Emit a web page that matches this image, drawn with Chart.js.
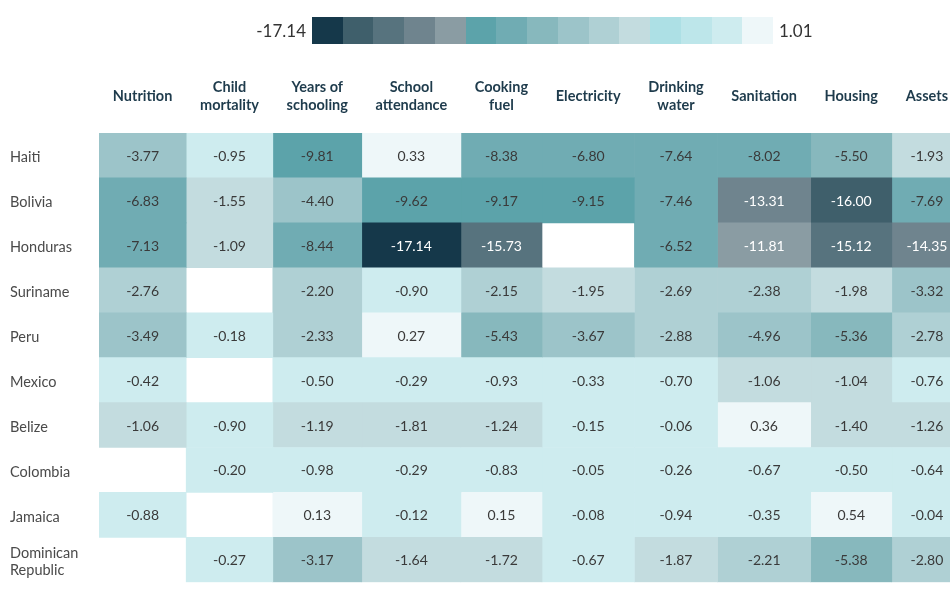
<!DOCTYPE html>
<html><head><meta charset="utf-8">
<script src="https://cdn.jsdelivr.net/npm/chart.js@4/dist/chart.umd.min.js"></script>
<style>
html,body{margin:0;padding:0;background:#fff;overflow:hidden;width:950px;height:591px;position:relative;font-family:Lato,sans-serif}
#wrap{position:absolute;left:0;top:0}
#lgMin,#lgMax{position:absolute;top:17px;height:27px;line-height:27px;font-size:17px;color:#333}
#lgMin{left:150px;width:156px;text-align:right}
#lgMax{left:779px}
#lgBar{position:absolute;top:17px;left:312px;width:461px;height:27px;display:flex}
#lgBar div{flex:1;height:100%}
</style></head><body>
<div id="wrap"><canvas id="c"></canvas></div>
<div id="lgMin"></div><div id="lgBar"></div><div id="lgMax"></div>
<script>
// ---- data ----
const countries = ["Haiti","Bolivia","Honduras","Suriname","Peru","Mexico","Belize","Colombia","Jamaica",["Dominican","Republic"]];
const indicators = [["Nutrition"],["Child","mortality"],["Years of","schooling"],["School","attendance"],["Cooking","fuel"],["Electricity"],["Drinking","water"],["Sanitation"],["Housing"],["Assets"]];
const haiti    = [-3.77, -0.95, -9.81,   0.33,  -8.38, -6.80, -7.64,  -8.02,  -5.50, -1.93];
const bolivia  = [-6.83, -1.55, -4.40,  -9.62,  -9.17, -9.15, -7.46, -13.31, -16.00, -7.69];
const honduras = [-7.13, -1.09, -8.44, -17.14, -15.73,  null, -6.52, -11.81, -15.12, -14.35];
const suriname = [-2.76,  null, -2.20,  -0.90,  -2.15, -1.95, -2.69,  -2.38,  -1.98, -3.32];
const peru     = [-3.49, -0.18, -2.33,   0.27,  -5.43, -3.67, -2.88,  -4.96,  -5.36, -2.78];
const mexico   = [-0.42,  null, -0.50,  -0.29,  -0.93, -0.33, -0.70,  -1.06,  -1.04, -0.76];
const belize   = [-1.06, -0.90, -1.19,  -1.81,  -1.24, -0.15, -0.06,   0.36,  -1.40, -1.26];
const colombia = [ null, -0.20, -0.98,  -0.29,  -0.83, -0.05, -0.26,  -0.67,  -0.50, -0.64];
const jamaica  = [-0.88,  null,  0.13,  -0.12,   0.15, -0.08, -0.94,  -0.35,   0.54, -0.04];
const dominicanRepublic = [null, -0.27, -3.17, -1.64, -1.72, -0.67, -1.87, -2.21, -5.38, -2.80];
const rows = [haiti, bolivia, honduras, suriname, peru, mexico, belize, colombia, jamaica, dominicanRepublic];
const legendTicks = ["-17.14", "1.01"];

// ---- colour scale ----
const palette = ["#15384a","#3f5f6b","#57737e","#6f848e","#8a9ca3","#5ca3aa","#70acb3","#87b8bd","#9cc4c9","#afd0d4","#c3dcdf","#ade0e5","#bde6ea","#ceecef","#eef7f9"];
const thresholds = [-16.5,-15.9,-15,-13,-11,-9,-6,-5,-3,-2,-1,-1,-1,0];
function colorIndex(v){ let i=0; while(i<thresholds.length && v>=thresholds[i]) i++; return i; }

// ---- legend ----
document.getElementById('lgMin').textContent = legendTicks[0];
document.getElementById('lgMax').textContent = legendTicks[1];
const bar = document.getElementById('lgBar');
palette.forEach(c => { const d=document.createElement('div'); d.style.background=c; bar.appendChild(d); });

// ---- column layout from header text widths ----
const headerSize = 14.5;
const mctx = document.createElement('canvas').getContext('2d');
mctx.font = 'bold ' + headerSize + 'px Lato';
const colWidths = indicators.map(lines => Math.max(...lines.map(l => mctx.measureText(l).width)) + 29);
const edges = [0];
colWidths.forEach(w => edges.push(edges[edges.length-1] + w));
const centers = colWidths.map((w,i) => edges[i] + w/2);
const total = edges[edges.length-1];

const LEFT = 99, TOP = 133, H = 591;
const canvas = document.getElementById('c');
canvas.width = Math.ceil(LEFT + total); canvas.height = H;
canvas.style.width = canvas.width + 'px'; canvas.style.height = H + 'px';

const cellLabels = {
  id:'cellLabels',
  afterDatasetsDraw(chart){
    const {ctx} = chart;
    ctx.save();
    ctx.font = '14px Lato';
    ctx.textAlign = 'center'; ctx.textBaseline = 'middle';
    chart.data.datasets.forEach((ds, c) => {
      const meta = chart.getDatasetMeta(c);
      meta.data.forEach((el, r) => {
        const v = rows[r][c];
        if (v == null) return;
        const p = el.getCenterPoint();
        ctx.fillStyle = colorIndex(v) <= 4 ? '#ffffff' : '#3a3a3a';
        ctx.fillText(v.toFixed(2), p.x, p.y + 1);
      });
    });
    ctx.restore();
  }
};

new Chart(canvas, {
  type: 'bar',
  data: {
    labels: countries,
    datasets: indicators.map((h, c) => ({
      label: h.join(' '),
      data: rows.map(r => r[c] == null ? null : [edges[c], edges[c+1]]),
      backgroundColor: ctx => { const v = rows[ctx.dataIndex][c]; return v == null ? 'rgba(0,0,0,0)' : palette[colorIndex(v)]; },
      borderWidth: 0, borderSkipped: false, grouped: false,
      barPercentage: 1, categoryPercentage: 1
    }))
  },
  options: {
    indexAxis: 'y', responsive: false, animation: false,
    layout: { padding: { left: 10, right: 0, top: 0, bottom: H - TOP - 450 } },
    plugins: { legend: { display: false }, tooltip: { enabled: false } },
    scales: {
      x: {
        type: 'linear', position: 'top', min: 0, max: total,
        grid: { display: false, drawTicks: false }, border: { display: false },
        afterBuildTicks: s => { s.ticks = centers.map(v => ({ value: v })); },
        afterFit: s => { s.height = TOP; },
        ticks: { autoSkip: false, maxRotation: 0, minRotation: 0, padding: 28, crossAlign: 'center',
          color: '#1e3b4c', font: { family: 'Lato', size: headerSize, weight: 'bold', lineHeight: 1.2 },
          callback: (v, i) => indicators[i] }
      },
      y: {
        grid: { display: false, drawTicks: false }, border: { display: false },
        afterFit: s => { s.width = LEFT - 10; },
        ticks: { autoSkip: false, crossAlign: 'far', padding: 0, labelOffset: 2, color: '#4a4a4a',
          font: { family: 'Lato', size: 14.5, lineHeight: 1.2 } }
      }
    }
  },
  plugins: [cellLabels]
});
</script>
</body></html>
